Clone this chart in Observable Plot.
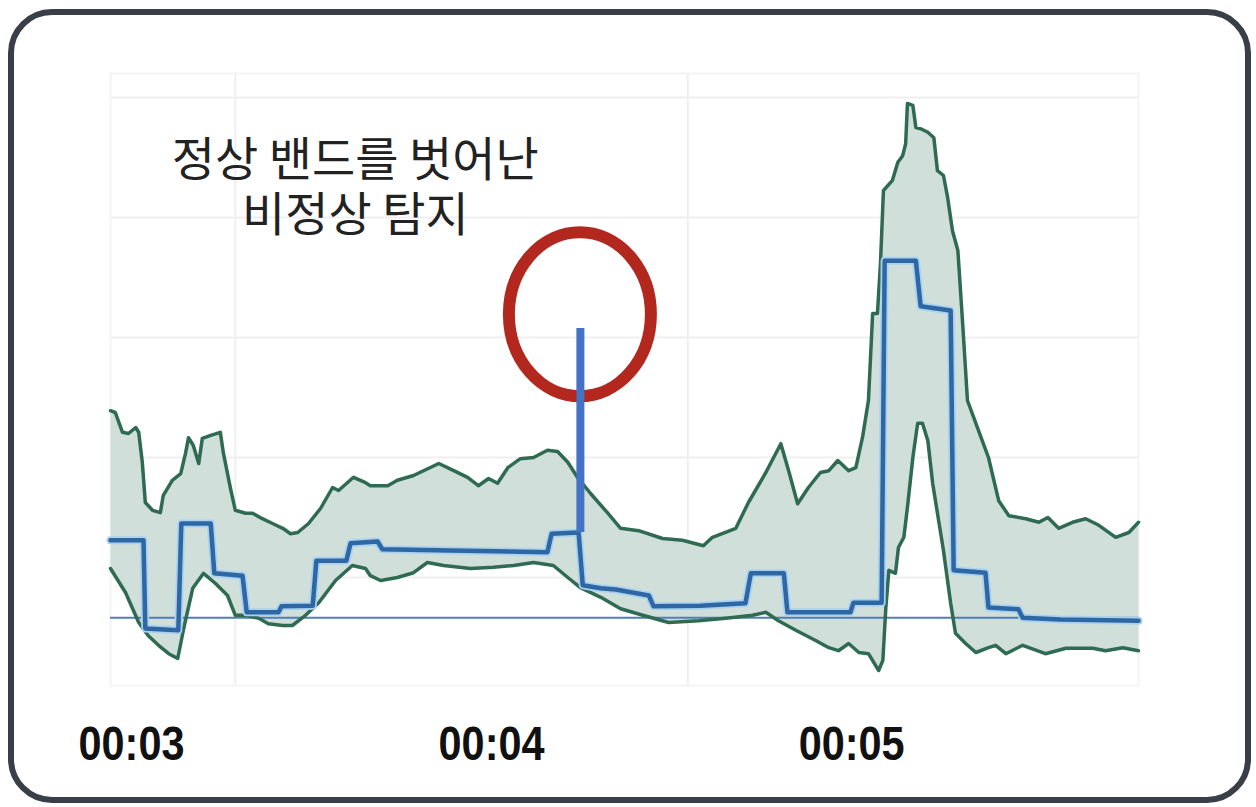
<!DOCTYPE html>
<html><head><meta charset="utf-8">
<script src="https://cdn.jsdelivr.net/npm/d3@7"></script>
<script src="https://cdn.jsdelivr.net/npm/@observablehq/plot@0.6"></script>
<style>
html,body{margin:0;padding:0;background:#fff;}
#wrap{position:relative;width:1256px;height:807px;overflow:hidden;background:#fff;}
#chart{position:absolute;left:0;top:0;}
#frame{position:absolute;left:8px;top:9px;width:1243px;height:794px;box-sizing:border-box;border:6px solid #3a3e48;border-radius:44px;pointer-events:none;}
</style></head><body>
<div id="wrap"><div id="chart"></div><div id="frame"></div></div>
<script>
// x axis (seconds since 00:00) ticks and labels
const tickValues = [180, 240, 300];
const tickLabels = ["00:03", "00:04", "00:05"];
const gridX = [197.3, 272.7];
const gridY = [20, 40, 60, 80, 100];

// upper bound of the normal band
const upperT = [176.5,177.3,178.5,179.5,180.7,181.2,181.8,182.3,183.5,184.8,185.3,186.8,188.2,189.0,189.5,190.3,191.2,191.8,193.2,194.8,195.3,196.5,197.3,199.0,200.2,201.8,203.5,205.2,206.5,207.7,209.5,211.5,213.5,214.5,217.0,219.0,219.8,222.7,224.3,227.0,231.2,233.7,236.0,237.8,239.5,241.0,242.7,244.8,247.0,249.3,251.0,252.7,254.3,256.5,259.3,261.5,264.5,268.5,271.8,275.3,276.8,280.7,282.8,285.7,288.2,289.5,291.0,292.8,294.8,296.2,297.7,299.5,300.7,301.8,302.8,303.5,304.3,304.8,305.3,306.8,307.7,308.5,309.0,309.3,310.2,310.7,311.5,312.7,313.7,314.3,315.3,316.0,316.8,317.7,318.5,319.3,320.7,322.8,324.5,326.2,329.0,331.2,332.7,334.5,336.8,339.0,341.2,344.0,346.2,347.8];
const upperV = [47.8,47.5,44.2,44.0,45.0,44.2,39.2,32.5,31.2,30.8,33.7,36.2,37.3,40.7,43.3,42.0,39.0,43.2,43.7,44.2,40.8,34.8,31.2,30.7,30.7,29.8,29.0,28.2,27.3,27.5,29.0,31.5,35.0,34.5,36.7,35.8,35.3,35.3,36.2,37.0,39.0,37.8,36.7,35.3,36.5,35.7,38.3,39.8,40.0,41.2,41.0,39.2,36.7,34.0,30.8,28.2,27.8,26.5,26.2,25.3,26.7,28.2,32.5,37.5,42.3,37.8,32.3,35.0,37.5,37.8,39.5,37.8,38.3,43.3,49.5,64.0,64.0,72.3,84.5,86.2,89.2,90.3,92.3,99.0,98.7,95.0,94.8,94.2,93.3,87.8,87.0,83.3,77.8,74.5,62.3,49.5,45.7,40.0,32.8,30.3,29.8,29.2,30.0,28.2,29.2,29.8,28.7,26.7,27.5,29.2];

// lower bound of the normal band
const lowerT = [176.5,179.0,181.2,182.8,184.5,186.2,187.7,188.7,190.2,192.0,194.0,196.0,197.3,199.0,201.2,202.8,205.2,206.8,209.0,211.2,214.0,216.8,219.0,219.8,221.5,224.3,227.0,229.3,232.0,236.5,240.3,243.7,247.0,250.3,252.7,254.8,258.2,261.5,265.2,269.5,274.5,279.0,283.5,285.7,287.8,290.7,294.0,296.2,297.8,299.5,301.2,302.8,304.5,305.2,305.7,306.2,307.3,307.8,308.7,309.3,310.2,311.0,311.8,312.7,313.5,314.3,315.3,316.5,317.3,319.0,320.7,322.8,324.0,325.7,328.5,332.3,335.7,340.2,342.3,345.2,347.8];
const lowerV = [21.5,17.5,12.5,10.3,8.7,7.3,6.5,11.5,18.2,20.7,19.0,17.0,13.7,13.7,13.2,12.3,12.0,12.0,13.7,15.8,19.5,22.0,21.5,20.3,19.5,20.0,20.8,22.5,22.0,21.5,21.7,22.0,22.5,22.0,20.0,18.3,16.7,14.8,13.7,12.5,12.8,13.2,13.7,14.2,12.8,11.2,9.5,8.3,7.8,9.0,7.5,7.3,4.5,6.2,15.0,21.2,20.7,25.0,26.7,31.7,40.0,45.7,45.7,42.8,35.7,30.7,24.5,15.7,10.7,9.0,7.5,8.3,8.7,7.3,8.7,7.3,8.2,8.2,7.8,8.3,7.8];

// observed metric (step line)
const metricT = [176.5,182.0,182.3,187.8,188.3,193.2,193.8,198.5,199.2,204.5,205.0,210.2,210.8,215.8,216.5,221.0,221.8,233.2,249.3,250.0,254.5,255.2,258.2,260.7,266.2,267.0,274.8,282.3,283.2,288.7,289.3,299.8,300.3,305.0,305.5,310.7,311.5,316.5,317.0,322.3,322.8,327.8,328.5,334.8,347.8];
const metricV = [26.2,26.2,11.5,11.2,29.0,29.0,20.7,20.3,14.2,14.2,15.2,15.3,22.8,22.8,25.7,26.0,24.7,24.5,24.2,27.3,27.5,18.7,18.2,18.0,17.0,15.2,15.3,15.7,20.7,20.7,14.2,14.2,15.8,15.8,72.8,72.8,65.2,64.5,21.2,20.8,15.0,14.7,13.3,13.0,12.8];

const threshold = 13.3;
const spikeT = [254.8];
const spikeFrom = [27.5];
const spikeTo = [61.5];
const circleT = 254.8, circleV = 63.8;
const noteT = [217.3], noteV = [85.3];
const noteText = ["정상 밴드를 벗어난\n비정상 탐지"];

const upper = upperT.map((t, i) => ({t, v: upperV[i]}));
const lower = lowerT.map((t, i) => ({t, v: lowerV[i]}));
const band = upper.concat(lower.slice().reverse());
const metric = metricT.map((t, i) => ({t, v: metricV[i]}));
const spike = spikeT.map((t, i) => ({t, y1: spikeFrom[i], y2: spikeTo[i]}));
const note = noteT.map((t, i) => ({t, v: noteV[i], text: noteText[i]}));

const ellipseMark = (index, scales, values, dimensions) => {
  const fx = typeof scales.x === "function" ? scales.x : (d) => scales.x.apply(d);
  const fy = typeof scales.y === "function" ? scales.y : (d) => scales.y.apply(d);
  const e = document.createElementNS("http://www.w3.org/2000/svg", "ellipse");
  e.setAttribute("cx", fx(circleT));
  e.setAttribute("cy", fy(circleV));
  e.setAttribute("rx", 71);
  e.setAttribute("ry", 82);
  e.setAttribute("fill", "none");
  e.setAttribute("stroke", "#b2281f");
  e.setAttribute("stroke-width", 12);
  return e;
};

const chart = Plot.plot({
  width: 1256, height: 807,
  marginLeft: 110, marginRight: 118, marginTop: 73, marginBottom: 122,
  style: {background: "transparent", overflow: "visible"},
  x: {domain: [176.5, 347.8]},
  y: {domain: [2, 104], axis: null},
  marks: [
    Plot.ruleX(gridX, {stroke: "#efefef", strokeWidth: 2}),
    Plot.ruleY(gridY, {stroke: "#efefef", strokeWidth: 2}),
    Plot.frame({stroke: "#f4f4f4", strokeWidth: 2}),
    Plot.line(band, {x: "t", y: "v", fill: "#d1dfdb", stroke: "none"}),
    Plot.ruleY([threshold], {stroke: "#4f7fb6", strokeWidth: 2}),
    Plot.line(upper, {x: "t", y: "v", stroke: "#2f6b53", strokeWidth: 3.5}),
    Plot.line(lower, {x: "t", y: "v", stroke: "#2f6b53", strokeWidth: 3.5}),
    Plot.line(metric, {x: "t", y: "v", stroke: "#a9d2f0", strokeWidth: 8}),
    Plot.line(metric, {x: "t", y: "v", stroke: "#2e67a3", strokeWidth: 4.5}),
    ellipseMark,
    Plot.ruleX(spike, {x: "t", y1: "y1", y2: "y2", stroke: "#4472c4", strokeWidth: 8}),
    Plot.text(note, {x: "t", y: "v", text: "text", fontSize: 47, lineHeight: 1.17,
      fontFamily: "'Noto Sans CJK KR', sans-serif", fill: "#222"}),
    Plot.axisX({ticks: tickValues, tickFormat: (d) => tickLabels[tickValues.indexOf(d)],
      tickSize: 0, tickPadding: 40, fontSize: 49, fontWeight: "bold",
      fontFamily: "'Liberation Sans', sans-serif",
      fill: "#111", label: null})
  ]
});
// condense the tick labels to the narrow face of the original
d3.select(chart).selectAll('g[aria-label="x-axis tick label"] text')
  .attr("textLength", 106).attr("lengthAdjust", "spacingAndGlyphs");
document.getElementById("chart").appendChild(chart);
</script>
</body></html>
